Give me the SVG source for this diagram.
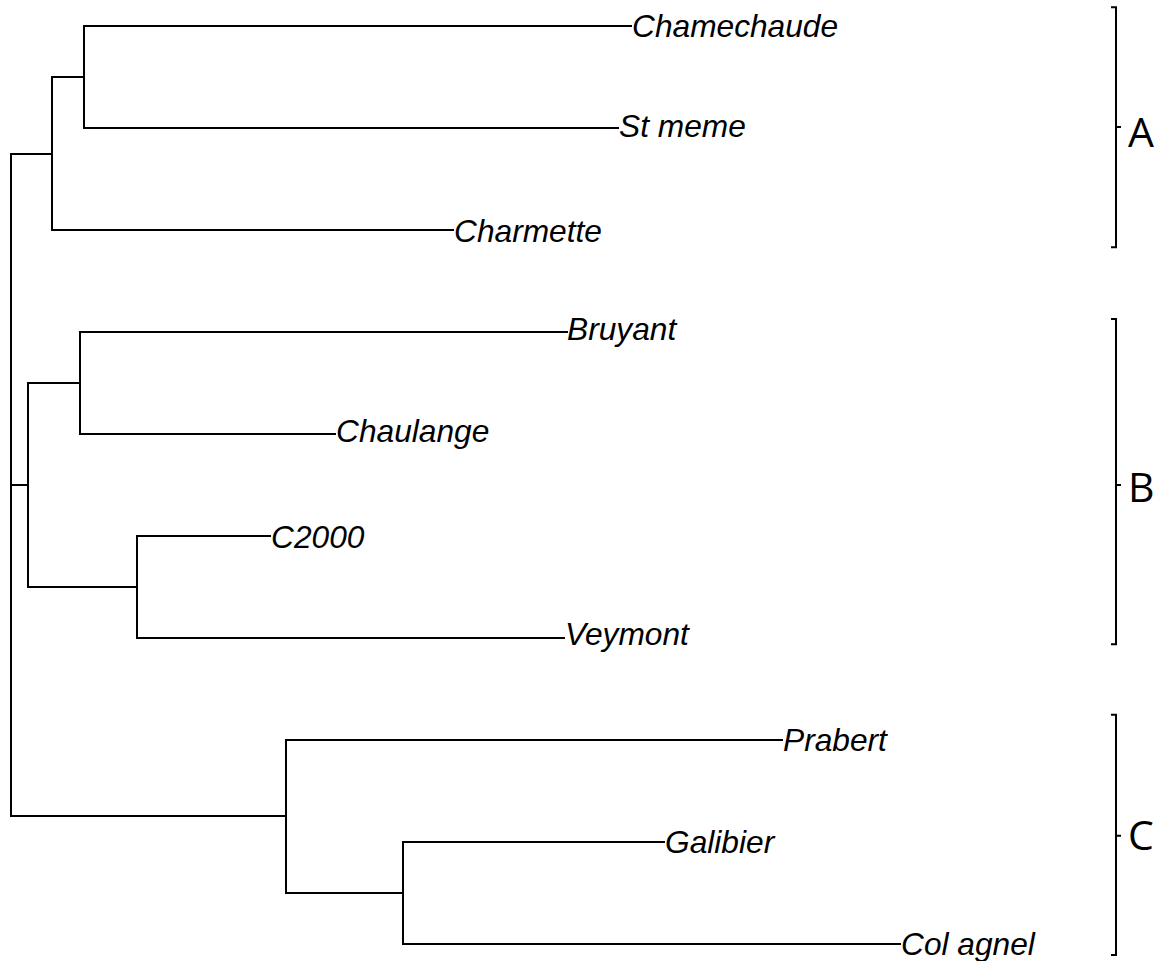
<svg xmlns="http://www.w3.org/2000/svg" width="1172" height="961" viewBox="0 0 1172 961">
  <style>
    .edge { fill: none; stroke: #000; stroke-width: 2; stroke-linecap: square; stroke-linejoin: miter; }
    .leaf { font-family: "Liberation Sans", Arial, sans-serif; font-style: italic; font-size: 31.7px; fill: #000; }
    .brace { fill: none; stroke: #000; stroke-width: 2; }
    .group-label { font-family: "Open Sans", "Noto Sans", sans-serif; font-size: 41px; fill: #000; }
  </style>
  <rect width="1172" height="961" fill="#fff"/>

  <!-- dendrogram branches -->
  <g id="connectors">
    <!-- cluster A -->
    <path class="edge" d="M631,26 H84 V128 H618"/>
    <path class="edge" d="M84,77 H52 V230 H453"/>
    <path class="edge" d="M52,154 H11"/>
    <!-- cluster B -->
    <path class="edge" d="M567,332 H80 V434 H335"/>
    <path class="edge" d="M270,536 H137 V638 H564"/>
    <path class="edge" d="M80,383 H28 V587 H137"/>
    <path class="edge" d="M28,485 H11"/>
    <!-- root -->
    <path class="edge" d="M11,154 V816 H286"/>
    <!-- cluster C -->
    <path class="edge" d="M782,740 H286 V893 H403"/>
    <path class="edge" d="M664,842 H403 V944 H900"/>
  </g>

  <!-- leaves -->
  <g id="leaf-chamechaude"><text class="leaf" x="632" y="37">Chamechaude</text></g>
  <g id="leaf-st-meme"><text class="leaf" x="619" y="137">St meme</text></g>
  <g id="leaf-charmette"><text class="leaf" x="454" y="241.5">Charmette</text></g>
  <g id="leaf-bruyant"><text class="leaf" x="567" y="340">Bruyant</text></g>
  <g id="leaf-chaulange"><text class="leaf" x="336" y="442">Chaulange</text></g>
  <g id="leaf-c2000"><text class="leaf" x="271" y="548">C2000</text></g>
  <g id="leaf-veymont"><text class="leaf" x="565" y="645">Veymont</text></g>
  <g id="leaf-prabert"><text class="leaf" x="783" y="751">Prabert</text></g>
  <g id="leaf-galibier"><text class="leaf" x="665" y="852.5">Galibier</text></g>
  <g id="leaf-col-agnel"><text class="leaf" x="901" y="955">Col agnel</text></g>

  <!-- group brackets -->
  <g id="group-a">
    <path class="brace" d="M1111,7.3 H1116 V247.3 H1111 M1116,127 H1121"/>
    <text class="group-label" x="1128" y="146.5">A</text>
  </g>
  <g id="group-b">
    <path class="brace" d="M1111,319 H1116 V644.3 H1111 M1116,485 H1121"/>
    <text class="group-label" x="1128" y="502">B</text>
  </g>
  <g id="group-c">
    <path class="brace" d="M1111,714.7 H1116 V955 H1111 M1116,835.7 H1121"/>
    <text class="group-label" x="1128" y="850">C</text>
  </g>
</svg>
